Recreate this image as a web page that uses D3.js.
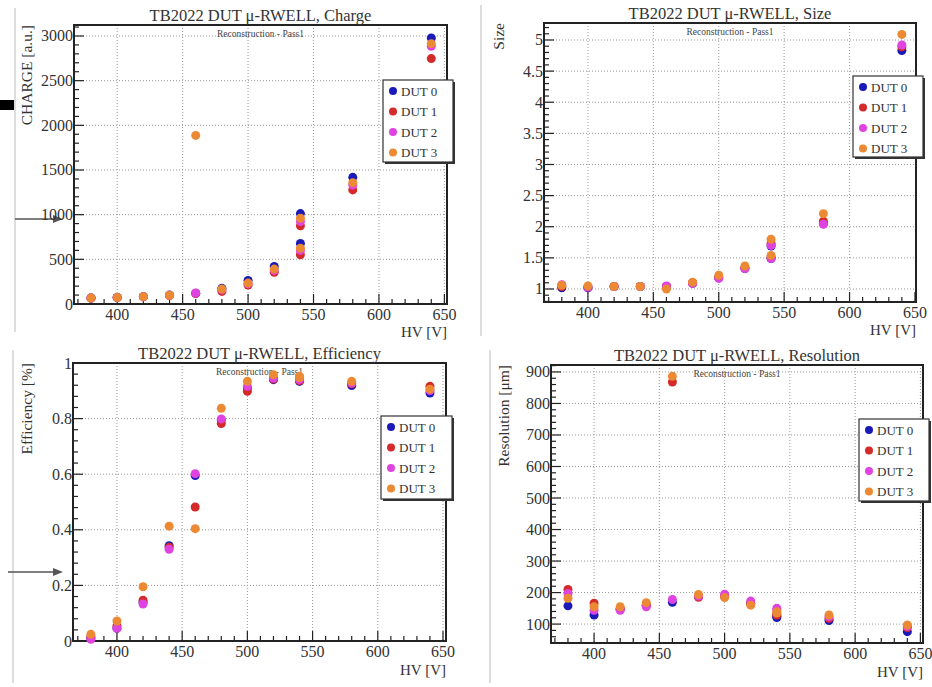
<!DOCTYPE html>
<html><head><meta charset="utf-8">
<script src="https://cdn.jsdelivr.net/npm/d3@7"></script>
<style>
body{margin:0;background:#fff;}
svg{display:block;font-family:"Liberation Serif","DejaVu Serif",serif;}
</style></head>
<body><svg id="c" width="932" height="687"></svg>
<script>
// ---- data ----
const seriesNames = ["DUT 0","DUT 1","DUT 2","DUT 3"];
const seriesColors = ["#1a1ab8","#d42a2a","#e044e0","#ec8a34"];
const hv = [380,400,420,440,460,480,500,520,540,540,580,640];

const charge0 = [67,74,82,100,120,175,264,420,1012,677,1418,2978];
const charge1 = [66,73,81,95,118,141,212,354,875,551,1277,2747];
const charge2 = [67,74,82,97,123,160,227,376,923,600,1332,2885];
const charge3 = [67,74,82,98,1887,167,234,391,960,625,1358,2914];

const size0 = [1.02,1.02,1.04,1.04,1.04,1.09,1.18,1.33,1.69,1.49,2.05,4.83];
const size1 = [1.04,1.03,1.04,1.04,1.04,1.10,1.19,1.34,1.73,1.51,2.09,4.89];
const size2 = [1.07,1.03,1.04,1.04,1.05,1.09,1.17,1.33,1.70,1.49,2.04,4.92];
const size3 = [1.06,1.05,1.04,1.04,1.00,1.11,1.22,1.37,1.80,1.54,2.21,5.09];

const eff0 = [0.010,0.046,0.139,0.343,0.595,0.795,0.910,0.940,0.934,0.936,0.919,0.892];
const eff1 = [0.015,0.054,0.147,0.337,0.482,0.782,0.898,0.942,0.937,0.938,0.925,0.916];
const eff2 = [0.006,0.046,0.133,0.330,0.602,0.799,0.916,0.946,0.942,0.940,0.928,0.901];
const eff3 = [0.024,0.072,0.195,0.413,0.404,0.837,0.934,0.958,0.952,0.948,0.934,0.906];

const res0 = [158,129,147,160,169,187,187,166,121,125,111,76];
const res1 = [210,166,150,160,868,185,189,166,129,132,118,89];
const res2 = [197,144,144,155,178,189,195,173,150,145,123,92];
const res3 = [182,155,155,168,886,194,184,160,139,135,129,97];

const xTicks = [400,450,500,550,600,650];
const chargeTicks = [0,500,1000,1500,2000,2500,3000];
const sizeTicks = [1,1.5,2,2.5,3,3.5,4,4.5,5];
const effTicks = [0,0.2,0.4,0.6,0.8,1];
const resTicks = [100,200,300,400,500,600,700,800,900];

const panels = [
  {title:"TB2022 DUT \u03bc-RWELL, Charge", ytitle:"CHARGE [a.u.]", box:[74,447,25,304], xd:[367,652], yd:[0,3123],
   yticks:chargeTicks, ymin:100, ylab:d=>d, series:[charge0,charge1,charge2,charge3], leg:[383,80,70,82], ytx:32, xtitleY:337},
  {title:"TB2022 DUT \u03bc-RWELL, Size", ytitle:"Size", box:[544,916,23,302], xd:[366.4,650.8], yd:[0.791,5.273],
   yticks:sizeTicks, ymin:0.1, ylab:d=>d, series:[size0,size1,size2,size3], leg:[853,76,70,81], ytx:504, xtitleY:335},
  {title:"TB2022 DUT \u03bc-RWELL, Efficiency", ytitle:"Efficiency [%]", box:[73,446,363,641], xd:[366.3,652.3], yd:[0,1],
   yticks:effTicks, ymin:0.04, ylab:d=>d, series:[eff0,eff1,eff2,eff3], leg:[381,416,71,83], ytx:32, xtitleY:675},
  {title:"TB2022 DUT \u03bc-RWELL, Resolution", ytitle:"Resolution [\u03bcm]", box:[551,923,365,643], xd:[367,652], yd:[40,922],
   yticks:resTicks, ymin:20, ylab:d=>d, series:[res0,res1,res2,res3], leg:[859,419,70,82], ytx:509, xtitleY:677}
];

const svg = d3.select("#c");

// faint page edges / decorations from the source slide
svg.append("line").attr("x1",15).attr("x2",15).attr("y1",8).attr("y2",332).attr("stroke","#ddd").attr("stroke-width",2);
svg.append("line").attr("x1",481).attr("x2",481).attr("y1",5).attr("y2",336).attr("stroke","#ddd").attr("stroke-width",2);
svg.append("line").attr("x1",13).attr("x2",13).attr("y1",350).attr("y2",683).attr("stroke","#ddd").attr("stroke-width",2);
svg.append("line").attr("x1",490).attr("x2",490).attr("y1",350).attr("y2",683).attr("stroke","#ddd").attr("stroke-width",2);
svg.append("rect").attr("x",0).attr("y",100).attr("width",14).attr("height",10).attr("fill","#000");

function arrow(x1,x2,y){
  svg.append("line").attr("x1",x1).attr("x2",x2-6).attr("y1",y).attr("y2",y).attr("stroke","#555").attr("stroke-width",1.5);
  svg.append("path").attr("d",`M${x2},${y}L${x2-10},${y-4}L${x2-10},${y+4}Z`).attr("fill","#555");
}
arrow(15,63,219);
arrow(8,63,572);

panels.forEach(p=>{
  const [L,R,T,B] = p.box;
  const x = d3.scaleLinear().domain(p.xd).range([L,R]);
  const y = d3.scaleLinear().domain(p.yd).range([B,T]);
  const g = svg.append("g");

  // grid
  g.selectAll(".gx").data(xTicks.filter(v=>x(v)<R-2)).join("line")
    .attr("x1",d=>x(d)).attr("x2",d=>x(d)).attr("y1",T).attr("y2",B)
    .attr("stroke","#999").attr("stroke-width",1).attr("stroke-dasharray","1,2");
  g.selectAll(".gy").data(p.yticks.filter(v=>y(v)>T+2 && y(v)<B-2)).join("line")
    .attr("x1",L).attr("x2",R).attr("y1",d=>y(d)).attr("y2",d=>y(d))
    .attr("stroke","#999").attr("stroke-width",1).attr("stroke-dasharray","1,2");

  // ticks (inward)
  const xMinor = d3.range(370,651,10);
  g.selectAll(".txm").data(xMinor).join("line")
    .attr("x1",d=>x(d)).attr("x2",d=>x(d)).attr("y1",B).attr("y2",d=>B-(d%50===0?10:5))
    .attr("stroke","#222").attr("stroke-width",1.2);
  const yMinor = d3.range(Math.ceil(p.yd[0]/p.ymin)*p.ymin, p.yd[1], p.ymin).map(v=>+v.toFixed(4));
  const isMajor = v => p.yticks.some(t=>Math.abs(t-v)<1e-6);
  g.selectAll(".tym").data(yMinor).join("line")
    .attr("x1",L).attr("x2",d=>L+(isMajor(d)?10:5)).attr("y1",d=>y(d)).attr("y2",d=>y(d))
    .attr("stroke","#222").attr("stroke-width",1.2);

  // frame
  g.append("rect").attr("x",L).attr("y",T).attr("width",R-L).attr("height",B-T)
    .attr("fill","none").attr("stroke","#222").attr("stroke-width",2);

  // tick labels
  g.selectAll(".xl").data(xTicks).join("text")
    .attr("x",d=>x(d)).attr("y",B+16).attr("text-anchor","middle")
    .attr("font-size",16).attr("fill","#333").text(d=>d);
  g.selectAll(".yl").data(p.yticks).join("text")
    .attr("x",L-1).attr("y",d=>y(d)+5.5).attr("text-anchor","end")
    .attr("font-size",16).attr("fill","#333").text(p.ylab);

  // titles
  g.append("text").attr("x",(L+R)/2).attr("y",T-4).attr("text-anchor","middle")
    .attr("font-size",16.5).attr("fill","#333").text(p.title);
  g.append("text").attr("x",(L+R)/2).attr("y",T+12).attr("text-anchor","middle")
    .attr("font-size",9.5).attr("fill","#444").text("Reconstruction - Pass1");
  g.append("text").attr("transform",`translate(${p.ytx},${T})rotate(-90)`).attr("text-anchor","end")
    .attr("font-size",15.5).attr("fill","#333").text(p.ytitle);
  g.append("text").attr("x",R).attr("y",p.xtitleY).attr("text-anchor","end")
    .attr("font-size",15).attr("fill","#333").text("HV [V]");

  // points
  p.series.forEach((s,i)=>{
    g.append("g").selectAll("circle").data(s.map((v,j)=>[hv[j],v])).join("circle")
      .attr("cx",d=>x(d[0])).attr("cy",d=>y(d[1])).attr("r",4.5).attr("fill",seriesColors[i]);
  });

  // legend
  const [lx,ly,lw,lh] = p.leg;
  g.append("rect").attr("x",lx+2).attr("y",ly+2).attr("width",lw).attr("height",lh).attr("fill","#333");
  g.append("rect").attr("x",lx).attr("y",ly).attr("width",lw).attr("height",lh).attr("fill","#fff").attr("stroke","#333").attr("stroke-width",1.2);
  seriesNames.forEach((n,i)=>{
    const cy = ly+11+i*20.5;
    g.append("circle").attr("cx",lx+10).attr("cy",cy).attr("r",4).attr("fill",seriesColors[i]);
    g.append("text").attr("x",lx+18).attr("y",cy+4.5).attr("font-size",13).attr("fill","#333").text(n);
  });
});
</script></body></html>
